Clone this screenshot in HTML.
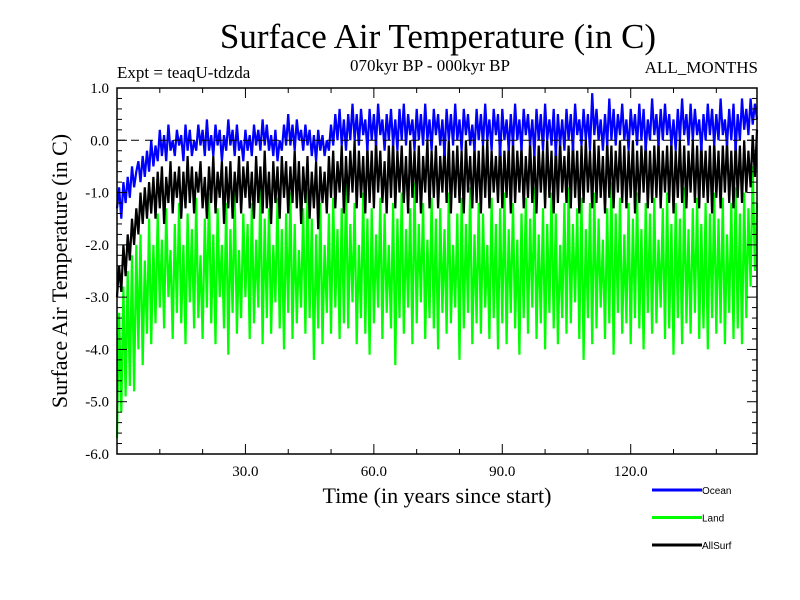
<!DOCTYPE html>
<html><head><meta charset="utf-8"><style>
body{margin:0;background:#fff;}
svg{display:block;}
text{font-family:"Liberation Serif",serif;}
</style></head><body>
<svg id="chart" width="800" height="600" viewBox="0 0 800 600">
<text x="438" y="48" font-size="35" text-anchor="middle">Surface Air Temperature (in C)</text>
<text x="117" y="78" font-size="17">Expt = teaqU-tdzda</text>
<text x="430" y="71" font-size="17" text-anchor="middle">070kyr BP - 000kyr BP</text>
<text x="758" y="73" font-size="17" text-anchor="end">ALL_MONTHS</text>
<text x="437" y="503" font-size="22" text-anchor="middle">Time (in years since start)</text>
<text transform="translate(67,271) rotate(-90)" font-size="22" text-anchor="middle">Surface Air Temperature (in C)</text>
<g id="plot"></g>
<g id="legend"></g>
</svg>
<script>
const ocean = [
-1.3,-0.9,-1.5,-0.8,-1.2,-0.7,-1.1,-0.5,-0.9,-0.6,
-0.4,-0.8,-0.3,-0.7,-0.2,-0.6,0.0,-0.5,-0.1,-0.4,
0.2,-0.3,0.1,-0.4,0.3,-0.2,0.0,-0.3,0.2,-0.1,
0.1,-0.4,0.3,-0.2,0.2,-0.3,0.0,-0.2,0.3,-0.1,
0.2,-0.3,0.4,-0.2,0.1,-0.3,0.3,-0.1,0.2,-0.4,
0.1,-0.2,0.4,-0.1,0.2,-0.3,0.3,-0.2,0.0,-0.4,
0.2,-0.2,0.1,-0.3,0.3,-0.1,0.2,-0.2,0.4,-0.1,
0.3,-0.2,0.1,-0.3,0.2,-0.4,0.0,-0.2,0.3,-0.1,
0.5,-0.1,0.3,-0.2,0.4,0.0,0.2,-0.2,0.3,-0.1,
0.2,-0.3,0.1,-0.4,0.2,-0.2,0.1,-0.3,0.0,-0.2,
0.3,-0.1,0.5,0.0,0.6,-0.1,0.4,-0.2,0.5,0.0,
0.7,0.0,0.5,-0.1,0.6,0.1,0.4,-0.2,0.6,0.0,
0.5,-0.1,0.7,0.1,0.4,-0.2,0.5,0.0,0.6,-0.1,
0.4,-0.2,0.6,0.0,0.7,-0.1,0.5,0.1,0.4,-0.2,
0.6,0.0,0.5,-0.1,0.7,0.0,0.4,-0.2,0.6,0.1,
0.5,-0.1,0.4,-0.3,0.6,0.0,0.5,-0.1,0.7,0.0,
0.4,-0.2,0.6,0.1,0.5,-0.1,0.3,-0.2,0.6,0.0,
0.5,-0.1,0.7,0.0,0.4,-0.2,0.6,0.1,0.5,-0.3,
0.6,0.0,0.4,-0.2,0.5,-0.1,0.7,0.0,0.4,-0.2,
0.6,0.1,0.5,-0.1,0.4,-0.3,0.6,0.0,0.5,-0.2,
0.7,0.0,0.4,-0.1,0.6,-0.3,0.5,-0.1,0.4,-0.2,
0.6,0.0,0.5,-0.2,0.7,0.1,0.4,-0.1,0.6,0.0,
0.5,-0.2,0.9,0.1,0.6,0.0,0.4,-0.2,0.5,-0.1,
0.8,0.0,0.6,-0.1,0.5,0.1,0.7,0.0,0.4,-0.2,
0.6,0.1,0.5,-0.1,0.7,0.0,0.6,-0.2,0.4,0.0,
0.8,0.1,0.5,-0.1,0.6,0.0,0.7,0.1,0.5,-0.1,
0.4,-0.2,0.6,0.0,0.8,0.1,0.5,-0.1,0.7,0.0,
0.6,0.1,0.4,-0.2,0.5,0.0,0.7,0.1,0.6,-0.1,
0.5,0.0,0.8,0.1,0.4,-0.1,0.6,0.0,0.7,-0.2,
0.5,0.0,0.8,0.2,0.6,0.1,0.8,0.3,0.7,0.4];
const land = [
-5.7,-3.3,-5.2,-2.8,-4.9,-2.5,-4.7,-2.2,-4.8,-2.0,
-4.0,-1.8,-4.3,-2.3,-3.7,-1.5,-3.9,-2.0,-3.5,-1.4,
-3.2,-1.9,-3.6,-1.3,-3.0,-2.1,-3.8,-1.6,-3.3,-1.2,
-3.5,-2.0,-3.9,-1.4,-3.1,-1.7,-3.6,-1.1,-3.4,-2.2,
-3.8,-1.5,-3.2,-1.0,-3.5,-1.8,-3.9,-1.3,-3.0,-2.0,
-3.6,-1.2,-4.1,-1.7,-3.3,-1.0,-3.7,-2.1,-3.4,-1.4,
-3.0,-1.6,-3.8,-1.2,-3.5,-1.9,-3.2,-0.9,-3.9,-1.5,
-3.4,-1.3,-3.7,-2.0,-3.1,-1.1,-3.6,-1.7,-4.0,-1.4,
-3.3,-1.0,-3.8,-1.6,-3.5,-2.1,-3.2,-1.3,-3.7,-0.9,
-3.4,-1.5,-4.2,-1.8,-3.6,-1.2,-3.9,-2.0,-3.3,-1.4,
-3.7,-1.1,-3.2,-1.7,-3.8,-1.3,-3.5,-0.8,-3.6,-1.6,
-3.1,-1.2,-3.9,-2.0,-3.4,-1.0,-3.7,-1.5,-4.1,-1.3,
-3.5,-1.8,-3.2,-1.1,-3.8,-1.4,-3.3,-2.0,-3.6,-1.2,
-4.3,-1.5,-3.4,-1.0,-3.7,-1.7,-3.2,-1.3,-3.9,-0.8,
-3.5,-1.6,-3.1,-1.2,-3.8,-1.9,-3.4,-1.1,-3.6,-1.5,
-4.0,-1.3,-3.3,-1.7,-3.7,-1.0,-3.5,-2.0,-3.2,-1.4,
-4.2,-1.1,-3.6,-1.6,-3.3,-0.9,-3.9,-1.8,-3.5,-1.2,
-3.7,-1.4,-3.2,-2.0,-3.8,-1.1,-3.4,-1.6,-4.0,-1.3,
-3.5,-1.0,-3.9,-1.7,-3.3,-1.2,-3.6,-1.9,-4.1,-1.4,
-3.4,-1.1,-3.7,-1.5,-3.2,-0.9,-3.8,-1.8,-3.5,-1.3,
-4.0,-1.6,-3.3,-1.0,-3.6,-1.4,-3.9,-2.0,-3.4,-1.2,
-3.7,-0.9,-3.5,-1.6,-3.1,-1.3,-3.8,-1.1,-4.2,-1.7,
-3.4,-1.2,-3.9,-1.0,-3.6,-1.5,-3.2,-1.9,-3.8,-1.3,
-3.5,-0.8,-4.1,-1.4,-3.3,-1.1,-3.7,-1.8,-3.5,-1.2,
-3.9,-1.5,-3.4,-1.0,-3.6,-1.7,-4.0,-1.2,-3.3,-1.4,
-3.7,-1.1,-3.5,-1.9,-3.2,-1.3,-3.8,-1.0,-3.6,-1.6,
-4.1,-1.2,-3.4,-1.5,-3.9,-0.9,-3.5,-1.7,-3.7,-1.3,
-3.3,-1.1,-3.8,-1.6,-3.6,-1.2,-4.0,-1.4,-3.4,-1.0,
-3.7,-1.5,-3.5,-1.1,-3.9,-1.8,-3.3,-1.2,-3.8,-0.9,
-3.6,-1.4,-3.9,-1.0,-3.4,-1.3,-2.8,-0.5,-2.5,-1.2];
const allsurf = [
-3.0,-2.4,-2.9,-2.0,-2.6,-1.8,-2.3,-1.5,-2.0,-1.3,
-1.8,-1.0,-1.6,-0.9,-1.5,-0.8,-1.4,-0.7,-1.5,-0.6,
-1.3,-0.5,-1.6,-0.7,-1.2,-0.4,-1.4,-0.6,-1.1,-0.5,
-1.5,-0.6,-1.3,-0.3,-1.2,-0.5,-1.4,-0.6,-1.0,-0.4,
-1.3,-0.7,-1.5,-0.5,-1.2,-0.3,-1.4,-0.6,-1.1,-0.4,
-1.6,-0.5,-1.3,-0.4,-1.5,-0.6,-1.2,-0.3,-1.4,-0.5,
-1.1,-0.4,-1.3,-0.6,-1.5,-0.3,-1.2,-0.5,-1.4,-0.2,
-1.3,-0.6,-1.6,-0.4,-1.2,-0.5,-1.5,-0.3,-1.1,-0.4,
-1.4,-0.5,-1.2,-0.2,-1.3,-0.4,-1.6,-0.5,-1.2,-0.3,
-1.5,-0.6,-1.3,-0.4,-1.7,-0.5,-1.2,-0.6,-1.4,-0.3,
-1.1,-0.2,-1.3,-0.4,-1.0,-0.1,-1.4,-0.3,-1.2,-0.2,
-1.0,0.0,-1.3,-0.2,-1.1,-0.3,-1.4,-0.1,-1.2,-0.2,
-1.3,0.0,-1.0,-0.2,-1.2,-0.4,-1.4,-0.1,-1.1,0.0,
-1.3,-0.2,-1.0,-0.1,-1.2,-0.3,-1.4,0.0,-1.1,-0.2,
-1.2,-0.1,-1.4,-0.3,-1.0,0.0,-1.3,-0.2,-1.1,-0.1,
-1.3,-0.3,-1.0,-0.1,-1.2,0.0,-1.4,-0.2,-1.1,-0.1,
-1.2,-0.2,-1.4,0.0,-1.0,-0.3,-1.3,-0.1,-1.2,-0.2,
-1.4,-0.1,-1.1,0.0,-1.3,-0.2,-1.0,-0.3,-1.2,0.0,
-1.3,-0.2,-1.1,-0.1,-1.4,0.0,-1.2,-0.2,-1.0,-0.1,
-1.3,-0.3,-1.1,0.0,-1.2,-0.2,-1.4,-0.1,-1.0,-0.2,
-1.3,0.0,-1.1,-0.2,-1.4,-0.1,-1.2,0.0,-1.0,-0.3,
-1.2,-0.1,-1.3,0.0,-1.1,-0.2,-1.4,-0.1,-1.2,0.0,
-1.0,-0.2,-1.3,0.0,-1.2,-0.1,-1.1,-0.3,-1.4,0.0,
-1.1,-0.1,-1.3,-0.2,-1.0,0.0,-1.2,-0.1,-1.3,-0.2,
-1.1,0.0,-1.4,-0.2,-1.2,-0.1,-1.0,0.0,-1.3,-0.2,
-1.2,-0.1,-1.1,0.0,-1.3,-0.2,-1.0,-0.1,-1.2,0.0,
-1.4,-0.2,-1.1,0.0,-1.2,-0.1,-1.3,-0.2,-1.0,0.0,
-1.2,-0.1,-1.3,0.0,-1.1,-0.2,-1.2,-0.1,-1.4,0.0,
-1.1,-0.2,-1.3,-0.1,-1.0,0.0,-1.2,-0.2,-1.3,0.0,
-1.1,-0.1,-1.2,0.0,-1.0,-0.2,-0.9,0.1,-0.7,0.2];
const yTicks = [1.0,0.0,-1.0,-2.0,-3.0,-4.0,-5.0,-6.0];
const yTickLabels = ["1.0","0.0","-1.0","-2.0","-3.0","-4.0","-5.0","-6.0"];
const xTicks = [30,60,90,120];
const xTickLabels = ["30.0","60.0","90.0","120.0"];
const seriesNames = ["Ocean","Land","AllSurf"];
const seriesColors = ["#0000ff","#00ff00","#000000"];

const L=117,R=757,T=88,B=454,X0=0,X1=149.5,Y0=-6,Y1=1;
const xs=v=>L+(v-X0)/(X1-X0)*(R-L);
const ys=v=>B-(v-Y0)/(Y1-Y0)*(B-T);
const NS="http://www.w3.org/2000/svg";
const plot=document.getElementById('plot');
function mk(tag,attrs,parent){const e=document.createElementNS(NS,tag);for(const k in attrs)e.setAttribute(k,attrs[k]);(parent||plot).appendChild(e);return e;}

const order=[[land,1],[allsurf,2],[ocean,0]];
order.forEach(([arr,i])=>{
  const n=arr.length;
  const pts=arr.map((v,k)=>xs(X0+k*(X1-X0)/(n-1)).toFixed(1)+','+ys(v).toFixed(1)).join(' ');
  const pl=mk('polyline',{points:pts,fill:'none',stroke:seriesColors[i],'stroke-width':2.2,'stroke-linejoin':'miter'});
  
  
});
const zl=mk('line',{x1:L,x2:R,y1:ys(0),y2:ys(0),stroke:'#000','stroke-width':1,'stroke-dasharray':'8,6'});



const frame=mk('rect',{x:L,y:T,width:R-L,height:B-T,fill:'none',stroke:'#000','stroke-width':1.5});



for(let v=Y0;v<=Y1+1e-6;v+=0.2){
  const y=ys(v);const major=Math.abs(v-Math.round(v))<1e-6;const len=major?10:5;
  mk('line',{x1:L,x2:L+len,y1:y,y2:y,stroke:'#000','stroke-width':1});
  mk('line',{x1:R,x2:R-len,y1:y,y2:y,stroke:'#000','stroke-width':1});
}
for(let v=10;v<X1;v+=10){
  const x=xs(v);const major=v%30===0;const len=major?10:5;
  mk('line',{x1:x,x2:x,y1:B,y2:B-len,stroke:'#000','stroke-width':1});
  mk('line',{x1:x,x2:x,y1:T,y2:T+len,stroke:'#000','stroke-width':1});
}
yTicks.forEach((v,i)=>{
  const t=mk('text',{x:L-8,y:ys(v)+5,'font-size':15,'text-anchor':'end'});
  t.textContent=yTickLabels[i];
  
  
});
xTicks.forEach((v,i)=>{
  const t=mk('text',{x:xs(v),y:B+22,'font-size':15,'text-anchor':'middle'});
  t.textContent=xTickLabels[i];
  
  
});
const leg=document.getElementById('legend');
seriesNames.forEach((nm,i)=>{
  const y=490+i*27.5;
  const g=mk('g',{},leg);
  
  
  mk('line',{x1:652,x2:702,y1:y,y2:y,stroke:seriesColors[i],'stroke-width':3},g);
  const t=mk('text',{x:702,y:y+4,'font-size':10},g);
  t.setAttribute('style','font-family:"Liberation Sans",sans-serif');
  t.textContent=nm;
});
</script>
</body></html>
